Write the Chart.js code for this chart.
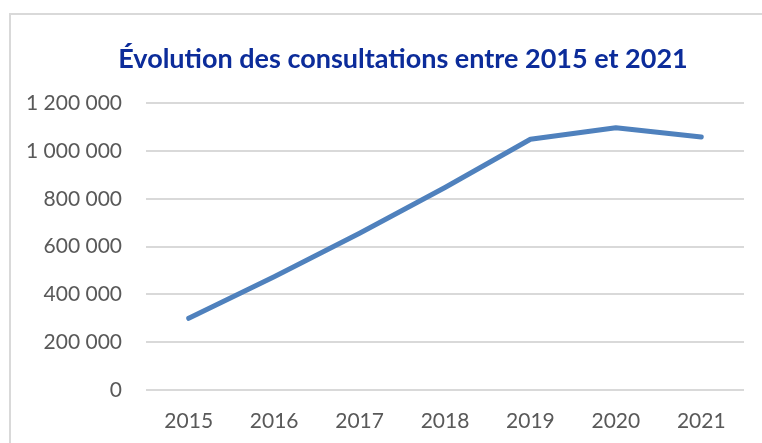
<!DOCTYPE html>
<html><head><meta charset="utf-8">
<script src="https://cdn.jsdelivr.net/npm/chart.js@4/dist/chart.umd.min.js"></script>
<style>html,body{margin:0;padding:0;background:#fff;overflow:hidden}#wrap{width:762px;height:443px;position:relative}</style>
</head><body><div id="wrap"><canvas id="c" width="762" height="443"></canvas></div>
<script>
const categories = ['2015','2016','2017','2018','2019','2020','2021'];
const consultations = [300000, 474000, 656000, 848000, 1050000, 1098000, 1059000];
const yTicks = [0, 200000, 400000, 600000, 800000, 1000000, 1200000];
const titleText = 'Évolution des consultations entre 2015 et 2021';

function fmt(v){ return String(v).replace(/\B(?=(\d{3})+(?!\d))/g,' '); }

const borderPlugin = {
  id:'outerBorder',
  beforeDraw(chart){
    const ctx = chart.ctx;
    ctx.save();
    ctx.fillStyle='#fff'; ctx.fillRect(0,0,chart.width,chart.height);
    ctx.strokeStyle='#d9d9d9'; ctx.lineWidth=2;
    ctx.strokeRect(10,14,900,600);
    ctx.restore();
  },
  afterLayout(chart){
    const t = chart.titleBlock;
    if (t) { t.left += 31; t.right += 31; }
  }
};

new Chart(document.getElementById('c'), {
  type:'line',
  data:{ labels:categories, datasets:[{ data:consultations, borderColor:'#4f81bd', borderWidth:5, borderCapStyle:'round', borderJoinStyle:'round', pointRadius:0, tension:0, fill:false }]},
  options:{
    responsive:false, animation:false, devicePixelRatio:1,
    layout:{ padding:{ left:0, right:18, top:0, bottom:0 } },
    plugins:{
      legend:{display:false}, tooltip:{enabled:false},
      title:{ display:true, text:titleText, color:'#0c2c9a', font:{family:'Lato', size:27, weight:'bold'}, padding:{top:43, bottom:28} }
    },
    scales:{
      x:{ offset:true, grid:{display:false, drawTicks:false}, border:{display:false},
          ticks:{ color:'#595959', font:{family:'Lato', size:21}, padding:19, maxRotation:0 },
          afterFit(s){ s.height = 53; } },
      y:{ min:0, max:1200000, afterBuildTicks(s){ s.ticks = yTicks.map(v=>({value:v})); },
          grid:{ color:'#d9d9d9', lineWidth:2, drawTicks:false }, border:{display:false},
          ticks:{ color:'#595959', font:{family:'Lato', size:21}, padding:24, callback:(v)=>fmt(v) },
          afterFit(s){ s.width = 146; } }
    }
  },
  plugins:[borderPlugin]
});
</script></body></html>
